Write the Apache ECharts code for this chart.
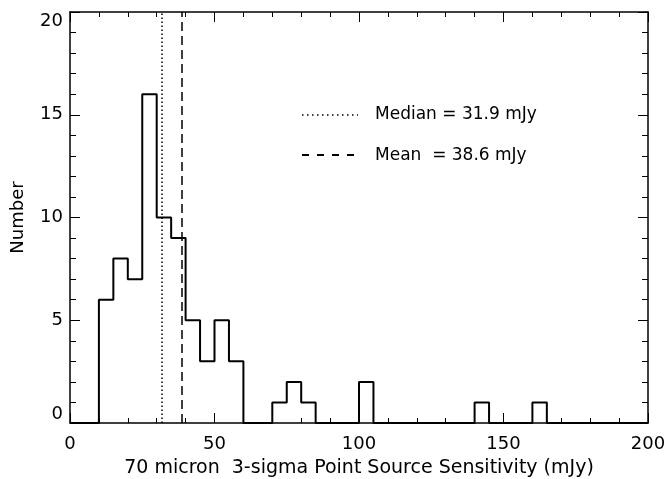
<!DOCTYPE html>
<html>
<head>
<meta charset="utf-8">
<script src="https://cdn.jsdelivr.net/npm/echarts@6/dist/echarts.min.js"></script>
<style>
  html, body { margin: 0; padding: 0; background: #fff; }
  #chart { width: 668px; height: 479px; }
</style>
</head>
<body>
<div id="chart"></div>
<script>
// Histogram of 70 micron 3-sigma point source sensitivities, 5 mJy bins from 10 mJy
const binStart = 10;
const binWidth = 5;
const counts = [6, 8, 7, 16, 10, 9, 5, 3, 5, 3, 0, 0, 1, 2, 1, 0, 0, 0, 2, 0,
                0, 0, 0, 0, 0, 0, 1, 0, 0, 0, 1];
const xTicks = [0, 50, 100, 150, 200];
const yTicks = [0, 5, 10, 15, 20];
const medianValue = 31.9;
const meanValue = 38.6;

const FONT = 'DejaVu Sans';
const INK = '#000';

// Step outline: flat at zero up to the first bin, each bin's count, then zero to the axis end
const stepPoints = [[xTicks[0], 0]];
counts.forEach((c, i) => stepPoints.push([binStart + i * binWidth, c]));
stepPoints.push([binStart + counts.length * binWidth, 0]);
stepPoints.push([xTicks[xTicks.length - 1], 0]);

const chart = echarts.init(document.getElementById('chart'), null, { renderer: 'canvas' });

const axisLine = { show: true, onZero: false, lineStyle: { color: INK, width: 1.5 } };
const xCommon = {
  type: 'value', min: xTicks[0], max: xTicks[xTicks.length - 1], interval: 50,
  axisLine, splitLine: { show: false },
  axisTick: { inside: true, length: 10, lineStyle: { color: INK, width: 1 } },
  minorTick: { show: true, splitNumber: 5, length: 5, lineStyle: { color: INK, width: 1 } }
};
const yCommon = {
  type: 'value', min: yTicks[0], max: yTicks[yTicks.length - 1], interval: 5,
  axisLine, splitLine: { show: false },
  axisTick: { inside: true, length: 10, lineStyle: { color: INK, width: 1 } },
  minorTick: { show: true, splitNumber: 5, length: 6, lineStyle: { color: INK, width: 1 } }
};

chart.setOption({
  animation: false,
  backgroundColor: '#fff',
  grid: { left: 70, right: 20, top: 12, bottom: 56, containLabel: false, outerBoundsMode: 'none' },
  xAxis: [
    Object.assign({}, xCommon, {
      position: 'bottom',
      name: '70 micron  3-sigma Point Source Sensitivity (mJy)',
      nameLocation: 'middle', nameGap: 36,
      nameTextStyle: { color: INK, fontFamily: FONT, fontSize: 19 },
      axisLabel: { color: INK, fontFamily: FONT, fontSize: 18, margin: 12 }
    }),
    Object.assign({}, xCommon, { position: 'top', axisLabel: { show: false } })
  ],
  yAxis: [
    Object.assign({}, yCommon, {
      position: 'left',
      name: 'Number',
      nameLocation: 'middle', nameGap: 43,
      nameTextStyle: { color: INK, fontFamily: FONT, fontSize: 18 },
      axisLabel: {
        color: INK, fontFamily: FONT, fontSize: 18, margin: 7,
        verticalAlignMinLabel: 'bottom', verticalAlignMaxLabel: 'top'
      }
    }),
    Object.assign({}, yCommon, { position: 'right', axisLabel: { show: false } })
  ],
  series: [
    {
      name: 'Sources',
      type: 'line',
      step: 'end',
      data: stepPoints,
      symbol: 'none',
      lineStyle: { color: INK, width: 2 },
      z: 3
    },
    {
      name: 'Statistics',
      type: 'line',
      data: [],
      markLine: {
        silent: true,
        symbol: 'none',
        label: { show: false },
        data: [
          { xAxis: medianValue, lineStyle: { color: INK, width: 1.5, type: [1.5, 2.5] } },
          { xAxis: meanValue, lineStyle: { color: INK, width: 1.5, type: [9, 5] } }
        ]
      }
    }
  ],
  graphic: [
    { type: 'line', shape: { x1: 302, y1: 115, x2: 358, y2: 115 },
      style: { stroke: INK, lineWidth: 1.5, lineDash: [1.5, 3.5] } },
    { type: 'text', x: 375, y: 115,
      style: { text: 'Median = 31.9 mJy', fill: INK, font: '17px "' + FONT + '"', verticalAlign: 'middle' } },
    { type: 'line', shape: { x1: 302, y1: 155, x2: 358, y2: 155 },
      style: { stroke: INK, lineWidth: 2, lineDash: [7, 8] } },
    { type: 'text', x: 375, y: 156,
      style: { text: 'Mean  = 38.6 mJy', fill: INK, font: '17px "' + FONT + '"', verticalAlign: 'middle' } }
  ]
});
</script>
</body>
</html>
